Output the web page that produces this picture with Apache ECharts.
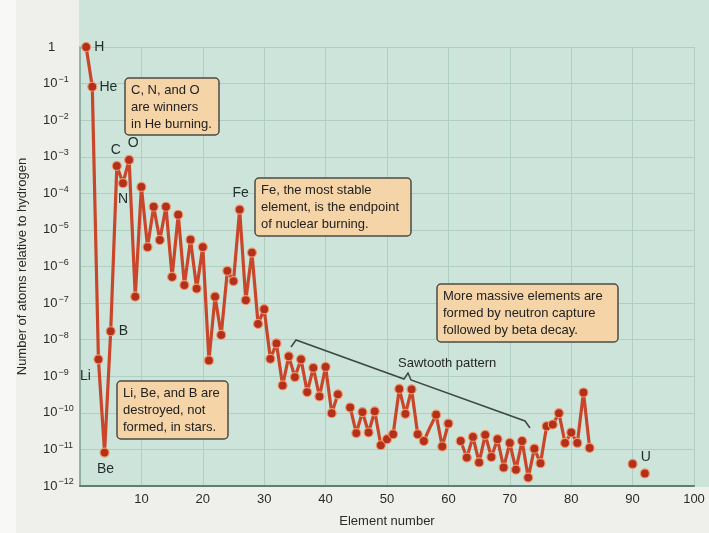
<!DOCTYPE html>
<html><head><meta charset="utf-8">
<script src="https://cdn.jsdelivr.net/npm/echarts/dist/echarts.min.js"></script>
<style>html,body{margin:0;padding:0;background:#efefeb;}#c{width:709px;height:533px;}</style>
</head><body><div id="c"></div>
<script>
// Element numbers 1..92 and relative abundances (null = not plotted)
const elementNumbers = [
  1,2,3,4,5,6,7,8,9,10,11,12,13,14,15,16,17,18,19,20,
  21,22,23,24,25,26,27,28,29,30,31,32,33,34,35,36,37,38,39,40,
  41,42,43,44,45,46,47,48,49,50,51,52,53,54,55,56,57,58,59,60,
  61,62,63,64,65,66,67,68,69,70,71,72,73,74,75,76,77,78,79,80,
  81,82,83,84,85,86,87,88,89,90,91,92];
const abundances = [
  1, 0.082, 2.9e-9, 8.2e-12, 1.7e-8, 5.6e-4, 1.9e-4, 8.2e-4, 1.5e-7, 1.5e-4,
  3.4e-6, 4.3e-5, 5.3e-6, 4.3e-5, 5.2e-7, 2.6e-5, 3.1e-7, 5.4e-6, 2.5e-7, 3.4e-6,
  2.7e-9, 1.5e-7, 1.35e-8, 7.6e-7, 4.0e-7, 3.6e-5, 1.2e-7, 2.4e-6, 2.7e-8, 6.8e-8,
  3.0e-9, 7.9e-9, 5.6e-10, 3.5e-9, 9.5e-10, 2.9e-9, 3.7e-10, 1.7e-9, 2.8e-10, 1.8e-9,
  9.8e-11, 3.2e-10, null, 1.4e-10, 2.8e-11, 1.05e-10, 2.9e-11, 1.1e-10, 1.3e-11, 1.9e-11,
  2.6e-11, 4.5e-10, 9.4e-11, 4.4e-10, 2.6e-11, 1.7e-11, 4.0e-11, 8.9e-11, 1.2e-11, 5.1e-11,
  null, 1.7e-11, 6.0e-12, 2.2e-11, 4.4e-12, 2.5e-11, 6.2e-12, 1.9e-11, 3.2e-12, 1.5e-11,
  2.8e-12, 1.7e-11, 1.7e-12, 1.05e-11, 4.2e-12, 4.3e-11, 4.8e-11, 9.8e-11, 1.5e-11, 2.9e-11,
  1.5e-11, 3.6e-10, 1.1e-11, null, null, null, null, null, null, 4.0e-12,
  null, 2.2e-12];
const hiddenMarkers = [57];
const elementLabels = {1:'H', 2:'He', 3:'Li', 4:'Be', 5:'B', 6:'C', 7:'N', 8:'O', 26:'Fe', 92:'U'};
const xTicks = [0,10,20,30,40,50,60,70,80,90,100];
const yTickExponents = [0,-1,-2,-3,-4,-5,-6,-7,-8,-9,-10,-11,-12];

const labelPlacement = {
  1:{position:'right', offset:[0,0]},
  2:{position:'right', offset:[-1,0]},
  3:{position:'bottom', offset:[-13,2]},
  4:{position:'bottom', offset:[1,1]},
  5:{position:'right', offset:[0,0]},
  6:{position:'top', offset:[-1,-1]},
  7:{position:'bottom', offset:[0,1]},
  8:{position:'top', offset:[4,-2]},
  26:{position:'top', offset:[1,-1]},
  92:{position:'top', offset:[1,-1]}
};

const seriesData = elementNumbers.map((n, i) => {
  const item = {value: [n, abundances[i]]};
  if (hiddenMarkers.includes(n)) item.symbol = 'none';
  if (elementLabels[n]) {
    item.label = Object.assign({show:true, formatter: elementLabels[n], fontSize: 14,
      color:'#1f2d2b', fontFamily:'Liberation Sans, Arial, sans-serif', distance: 3}, labelPlacement[n]);
  }
  return item;
});

const font = 'Liberation Sans, Arial, sans-serif';
function box(x, y, w, h, text) {
  return {type:'group', children:[
    {type:'rect', shape:{x:x, y:y, width:w, height:h, r:4},
     style:{fill:'#f5d4a8', stroke:'#4b4b45', lineWidth:1.5}, z:20},
    {type:'text', style:{x:x+6, y:y+4, text:text, fontSize:13, fontFamily:font,
     lineHeight:17, fill:'#222222'}, z:21}
  ]};
}

const chart = echarts.init(document.getElementById('c'), null, {renderer:'canvas'});
chart.setOption({
  backgroundColor:'#efefeb',
  animation:false,
  grid:{left:80, right:15, top:47, bottom:46},
  xAxis:{type:'value', min:0, max:100, interval:10,
    name:'Element number', nameLocation:'middle', nameGap:29,
    nameTextStyle:{fontSize:13, color:'#2b2b2b', fontFamily:font},
    axisLine:{show:true, lineStyle:{color:'#5f7f72', width:2}},
    axisTick:{show:false},
    axisLabel:{fontSize:13, color:'#2b2b2b', fontFamily:font, margin:7,
      formatter: v => (v === 0 ? '' : String(v))},
    splitLine:{show:true, lineStyle:{color:'#afcfc3', width:1}}
  },
  yAxis:{type:'log', logBase:10, min:1e-12, max:1, interval:1, splitNumber:12,
    name:'Number of atoms relative to hydrogen', nameLocation:'middle', nameGap:51,
    nameTextStyle:{fontSize:13, color:'#2b2b2b', fontFamily:font},
    axisLine:{show:true, lineStyle:{color:'#86a397', width:1.5}},
    axisTick:{show:false},
    axisLabel:{margin:37, align:'left', color:'#2b2b2b', fontFamily:font, fontSize:13,
      formatter: v => {
        const e = Math.round(Math.log10(v));
        if (!yTickExponents.includes(e)) return '';
        if (e === 0) return '{one|1}';
        return '10{s|\u2212' + (-e) + '}';
      },
      rich:{
        one:{fontSize:13, padding:[0,0,0,5], fontFamily:font, color:'#2b2b2b'},
        s:{fontSize:9, padding:[0,0,8,1], fontFamily:font, color:'#2b2b2b'}
      }
    },
    splitLine:{show:true, lineStyle:{color:'#afcfc3', width:1}}
  },
  graphic:[
    {type:'rect', shape:{x:79, y:0, width:630, height:487}, style:{fill:'#cde4db'}, z:-100, silent:true},
    {type:'rect', shape:{x:0, y:0, width:16, height:533}, style:{fill:'#f8f8f6'}, z:-100, silent:true},
    box(125, 78, 94, 57, 'C, N, and O\nare winners\nin He burning.'),
    box(117, 381, 111, 58, 'Li, Be, and B are\ndestroyed, not\nformed, in stars.'),
    box(255, 178, 156, 58, 'Fe, the most stable\nelement, is the endpoint\nof nuclear burning.'),
    box(437, 284, 181, 58, 'More massive elements are\nformed by neutron capture\nfollowed by beta decay.'),
    {type:'polyline', shape:{points:[[291,347],[296,340],[404,379],[408,373],[411,380],[525,421],[530,428]]},
     style:{stroke:'#3c4846', lineWidth:1.5, fill:null}, z:15},
    {type:'text', style:{x:398, y:357, text:'Sawtooth pattern', fontSize:13, fontFamily:font, fill:'#262626'}, z:15}
  ],
  series:[{
    type:'line', data:seriesData, connectNulls:false, clip:false,
    symbol:'circle', symbolSize:9,
    lineStyle:{color:'#c9462a', width:3.2},
    itemStyle:{color:'#b3301c', borderColor:'#ee9868', borderWidth:1.2},
    z:5
  }]
});
</script></body></html>
